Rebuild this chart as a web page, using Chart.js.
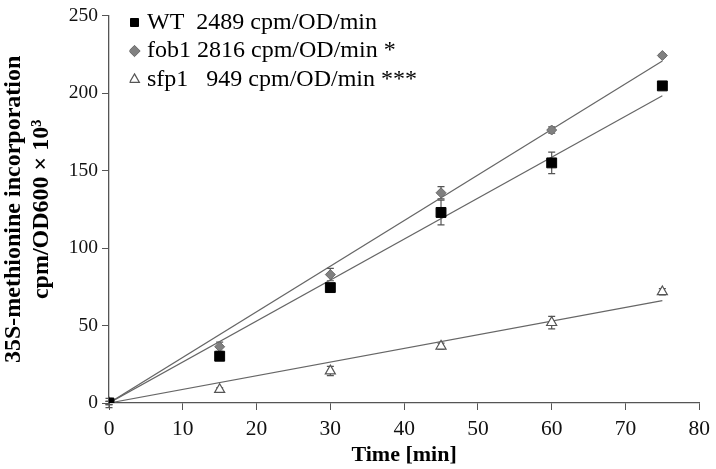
<!DOCTYPE html>
<html>
<head>
<meta charset="utf-8">
<script src="https://cdn.jsdelivr.net/npm/chart.js@4/dist/chart.umd.min.js"></script>
<style>
  html, body { margin: 0; padding: 0; background: #fff; }
  #wrap { width: 716px; height: 469px; }
</style>
</head>
<body>
<div id="wrap"><canvas id="c" width="716" height="469"></canvas></div>
<script>
// time points [min]
const times = [0, 15, 30, 45, 60, 75];

// 35S-methionine incorporation, cpm/OD600 x 10^3
const wtValues   = [0, 30.2, 74.5, 123, 155, 204.7];
const fob1Values = [0, 36.3, 82.9, 135.7, 176.2, 224.3];
const sfp1Values = [0, 8.7, 20.7, 36.7, 51.9, 71.8];

// error bars (+/-)
const wtErr   = [1, 1.5, 2, 8, 7, 1.5];
const fob1Err = [3, 3, 4, 4, 2, 1];
const sfp1Err = [1, 1, 3, 2, 4, 2];

// fitted lines, start and end
const fitX    = [0, 75];
const wtFit   = [0, 198.3];
const fob1Fit = [0, 220.7];
const sfp1Fit = [0, 66.1];

const legendLabels = ['WT  2489 cpm/OD/min', 'fob1 2816 cpm/OD/min *', 'sfp1   949 cpm/OD/min ***'];
const xTicks = [0, 10, 20, 30, 40, 50, 60, 70, 80];
const yTicks = [0, 50, 100, 150, 200, 250];

function pts(xs, ys) {
  let out = [];
  for (let i = 0; i < xs.length; i++) {
    out.push({ x: xs[i], y: ys[i] });
  }
  return out;
}

const serif = "'Liberation Serif', 'DejaVu Serif', serif";
const legendPad = 4.5;

const errorBars = {
  id: 'errorBars',
  beforeDatasetsDraw(chart) {
    const ctx = chart.ctx;
    const xs = chart.scales.x, ys = chart.scales.y;
    const sets = [[wtValues, wtErr], [fob1Values, fob1Err], [sfp1Values, sfp1Err]];
    ctx.save();
    ctx.strokeStyle = '#555';
    ctx.lineWidth = 1.2;
    for (const s of sets) {
      for (let i = 0; i < times.length; i++) {
        const px = xs.getPixelForValue(times[i]);
        const top = ys.getPixelForValue(s[0][i] + s[1][i]);
        const bot = ys.getPixelForValue(s[0][i] - s[1][i]);
        ctx.beginPath();
        ctx.moveTo(px, top); ctx.lineTo(px, bot);
        ctx.moveTo(px - 3.5, top); ctx.lineTo(px + 3.5, top);
        ctx.moveTo(px - 3.5, bot); ctx.lineTo(px + 3.5, bot);
        ctx.stroke();
      }
    }
    ctx.restore();
  }
};

// put the legend block inside the plot, top left
const legendPlace = {
  id: 'legendPlace',
  afterLayout(chart) {
    const lg = chart.legend;
    const h = lg.bottom - lg.top;
    lg.left = 134 - legendPad;
    lg.top = 6;
    lg.bottom = lg.top + h;
  }
};

function fitLine(data) {
  return {
    type: 'line', data: pts(fitX, data), borderColor: '#666', borderWidth: 1.2,
    pointRadius: 0, fill: false, order: 2, isFit: true
  };
}

new Chart(document.getElementById('c'), {
  type: 'scatter',
  data: {
    datasets: [
      { label: legendLabels[0], data: pts(times, wtValues), pointStyle: 'rect', pointRadius: 7,
        backgroundColor: '#000', borderColor: '#000', borderWidth: 1, order: 0 },
      { label: legendLabels[1], data: pts(times, fob1Values), pointStyle: 'rectRot', pointRadius: 5,
        backgroundColor: '#808080', borderColor: '#6a6a6a', borderWidth: 1, order: 0 },
      { label: legendLabels[2], data: pts(times, sfp1Values), pointStyle: 'triangle', pointRadius: 5.8,
        backgroundColor: '#fff', borderColor: '#555', borderWidth: 1.2, order: 0 },
      fitLine(wtFit),
      fitLine(fob1Fit),
      fitLine(sfp1Fit)
    ]
  },
  options: {
    responsive: false,
    animation: false,
    layout: { padding: { left: 0, right: 12, top: 8, bottom: 0 } },
    plugins: {
      tooltip: { enabled: false },
      legend: {
        position: 'chartArea',
        align: 'start',
        labels: {
          filter: (item, data) => !data.datasets[item.datasetIndex].isFit,
          usePointStyle: true,
          boxWidth: 1, boxHeight: 8,
          padding: legendPad,
          color: '#000',
          font: { family: serif, size: 24 }
        }
      }
    },
    scales: {
      x: {
        type: 'linear', min: 0, max: 80,
        afterFit: (s) => { s.height = 66; },
        afterBuildTicks: (s) => { s.ticks = xTicks.map(v => ({ value: v })); },
        grid: { drawOnChartArea: false, drawTicks: true, tickLength: 7, color: '#555' },
        border: { display: true, color: '#555', width: 1.3 },
        ticks: { color: '#111', padding: 6, font: { family: serif, size: 21.5 } },
        title: { display: true, text: 'Time [min]', color: '#000', padding: { top: 0, bottom: 0 },
                 font: { family: serif, size: 22, weight: 'bold' } }
      },
      y: {
        min: 0, max: 250,
        afterFit: (s) => { s.width = 109; },
        afterBuildTicks: (s) => { s.ticks = yTicks.map(v => ({ value: v })); },
        grid: { drawOnChartArea: false, drawTicks: true, tickLength: 7, color: '#555' },
        border: { display: true, color: '#555', width: 1.3 },
        ticks: { color: '#111', padding: 4, font: { family: serif, size: 19.5 } },
        title: { display: true, text: ['35S-methionine incorporation', 'cpm/OD600 \u00d7 10\u00b3'],
                 color: '#000', padding: { top: 0, bottom: 0 },
                 font: { family: serif, size: 24, weight: 'bold', lineHeight: 1.17 } }
      }
    }
  },
  plugins: [errorBars, legendPlace]
});
</script>
</body>
</html>
